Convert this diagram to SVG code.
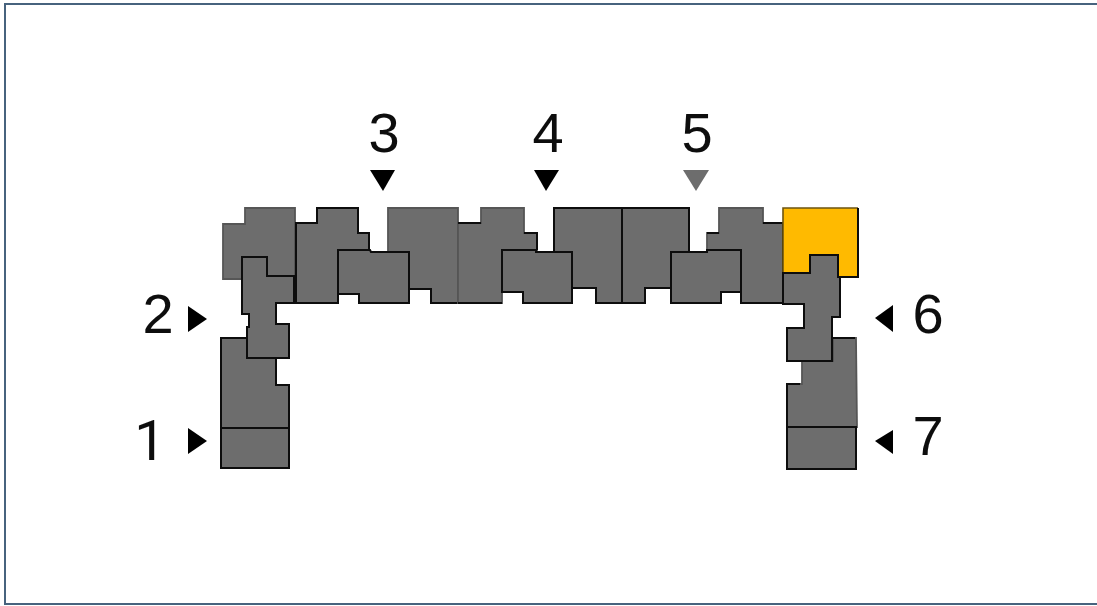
<svg xmlns="http://www.w3.org/2000/svg" width="1097" height="606" viewBox="0 0 1097 606">
<style>
.u{fill:#6d6d6d;stroke:#0a0a0a;stroke-width:2;stroke-linejoin:miter}
.s{fill:#6d6d6d;stroke:#565656;stroke-width:1.8}
.e{fill:none;stroke:#0a0a0a;stroke-width:2}
.y{fill:none;stroke:#6e5510;stroke-width:1.6}
.t{font-family:"Liberation Sans",Arial,sans-serif;font-size:56px;fill:#0c0c0c;text-anchor:middle}
.a{fill:#000}
</style>
<defs><filter id="b" x="-5%" y="-5%" width="110%" height="110%"><feGaussianBlur stdDeviation="0.7"/></filter></defs>
<rect width="1097" height="606" fill="#fff"/>
<g filter="url(#b)">
<rect id="frame" x="5" y="4" width="1200" height="600" fill="none" stroke="#46647e" stroke-width="2"/>
<g id="unit-a"><polygon class="s" points="245,208 295,208 295,276 267,276 267,279 223,279 223,224 245,224"/></g>
<g id="unit-d"><polygon class="s" points="388,208 458,208 458,303 431,303 431,289 409,289 409,252 388,252"/><path class="e" d="M409,289H431V303H458"/></g>
<g id="unit-b"><polygon class="u" points="296,223 317,223 317,208 358,208 358,233 369,233 369,250 338,250 338,303 296,303"/></g>
<g id="unit-c"><polygon class="u" points="338,250 370,250 371,252 409,252 409,303 359,303 359,294 338,294"/></g>
<g id="unit-e"><polygon class="s" points="458,223 481,223 481,208 524,208 524,233 537,233 537,250 502,250 502,303 458,303"/><path class="e" d="M458,223H481M524,233H537V250M502,303H458"/></g>
<g id="unit-g"><polygon class="u" points="554,208 622,208 622,303 596,303 596,288 572,288 572,252 554,252"/></g>
<g id="unit-h"><polygon class="u" points="622,208 689,208 689,252 671,252 671,288 645,288 645,303 622,303"/></g>
<g id="unit-f"><polygon class="u" points="502,250 536,250 536,252 572,252 572,303 523,303 523,292 502,292"/></g>
<g id="unit-j"><polygon class="s" points="719,208 763,208 763,223 783,223 783,303 741,303 741,250 707,250 707,233 719,233"/><path class="e" d="M763,223H783V303H741V250H707M707,233H719"/></g>
<g id="unit-i"><polygon class="u" points="671,252 707,252 707,250 741,250 741,292 721,292 721,303 671,303"/></g>
<g id="unit-yellow"><polygon fill="#ffba00" points="783,208 858,208 858,277 838,277 838,255 810,255 810,273 783,273"/><path class="y" d="M783,273V208H858"/><path class="e" d="M858,208V277H838"/><path class="y" d="M838,277V255H810V273H783"/></g>
<g id="unit-p"><polygon class="u" points="221,338 247,338 247,358 276,358 276,385 289,385 289,428 221,428"/></g>
<g id="unit-m"><rect class="u" x="221" y="428" width="68" height="40"/></g>
<g id="unit-q"><polygon class="u" points="242,257 267,257 267,276 294,276 294,303 276,303 276,324 289,324 289,358 247,358 247,327 249,327 249,314 242,314"/></g>
<g id="unit-l"><polygon class="s" points="833,338 856,338 857,427 787,427 787,384 802,384 802,361 833,361"/><path class="e" d="M833,338H855M787,427V384H800"/></g>
<g id="unit-n"><rect class="u" x="787" y="427" width="69" height="42"/></g>
<g id="unit-k"><polygon class="u" points="783,273 810,273 810,255 838,255 838,277 840,277 840,317 832,317 832,361 787,361 787,328 804,328 804,304 783,304"/></g>
<g id="markers">
<polygon class="a" points="188,306 207,319 188,332"/>
<polygon class="a" points="188,428 207,441 188,454"/>
<polygon class="a" points="370,170 395,170 383,191"/>
<polygon class="a" points="534,170 559,170 546,191"/>
<polygon points="683,170 709,170 696,191" fill="#6d6d6d"/>
<polygon class="a" points="893,305 875,318 893,332"/>
<polygon class="a" points="893,430 875,441 893,454"/>
</g>
<g id="labels">
<text class="t" x="384" y="152">3</text>
<text class="t" x="548" y="152">4</text>
<text class="t" x="697" y="152">5</text>
<text class="t" x="158" y="333">2</text>
<text class="t" x="150" y="460" style="font-family:Roboto,sans-serif">1</text>
<text class="t" x="928" y="333">6</text>
<text class="t" x="928" y="455">7</text>
</g>
</g>
</svg>
